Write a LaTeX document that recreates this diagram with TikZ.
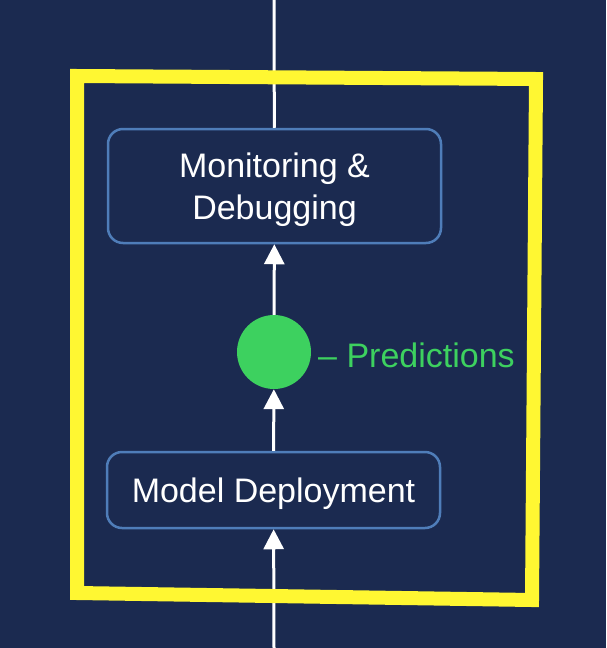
\documentclass[tikz,border=0pt]{standalone}
\usepackage{fontspec}
\setmainfont{Liberation Sans}
\usepackage{tikz}
\usetikzlibrary{arrows.meta}
\definecolor{navy}{RGB}{27,42,80}
\definecolor{boxline}{RGB}{79,125,185}
\definecolor{predgreen}{RGB}{61,209,95}
\definecolor{marker}{RGB}{255,247,50}
\tikzstyle{stage} = [draw=boxline, line width=2.5pt, rounded corners=15pt, fill=navy, text=white, align=center, minimum width=333pt, text depth=0pt, font=\fontsize{34}{42}\selectfont]
\tikzstyle{es} = [draw=white, line width=3pt, -{Triangle[length=20pt,width=20pt]}]

\begin{document}
\begin{tikzpicture}[x=1pt,y=-1pt]
			\fill[navy] (0,0) rectangle (606,648);
			\useasboundingbox (0,0) rectangle (606,648);
			\coordinate (top) at (274,0);
			\coordinate (bot) at (274,648);
			\node[stage, minimum height=114pt] (mon) at (274.5,186) {Monitoring \&\\Debugging};
			\node[stage, minimum height=76pt] (dep) at (273.5,490) {Model Deployment};
			\node[circle, fill=predgreen, minimum size=74pt, inner sep=0pt] (pred) at (274,352) {};
			\node[anchor=base west, inner sep=0pt, text=predgreen, font=\fontsize{34}{42}\selectfont] (predlbl) at (318,367) {– Predictions};
			\draw[white, line width=3pt] (mon) -- (top);
			\draw[es] (bot) -- (dep);
			\draw[es] (dep) -- (pred);
			\draw[es] (pred) -- (mon);
			% hand drawn frame
			\draw[marker, line width=14pt] (77,76) -- (536,79) -- (532,600) -- (77,593) -- cycle;
		\end{tikzpicture}
\end{document}
